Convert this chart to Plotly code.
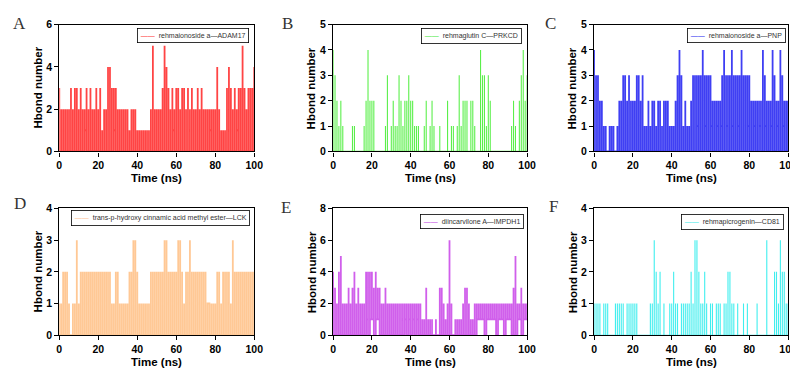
import plotly.graph_objects as go

# ---------------- data (1 ns bins, 0..100 ns) ----------------
time_ns = list(range(0, 101))

# per-bin highest and lowest H-bond count seen in each 1 ns column
hi_A = [int(c) for c in "3222223233" "2322323223" "2312244333" "2222221222" "1111111252"
        "2223543232" "3323323232" "2323222222" "2421113432" "32335323334"]
lo_A = [int(c) for c in "0000000000" "0001000000" "0000000010" "0000000000" "0000000000"
        "0000000010" "0000000000" "0000000100" "0000000000" "01000000000"]

hi_B = [int(c) for c in "4321210000" "1100001242" "2200000130" "1211321223" "2211100120"
        "1210010002" "0110131222" "0221004331" "3200000000" "00121023423"]
lo_B = [0] * 101

hi_C = [int(c) for c in "4332211011" "1012233232" "2233231121" "2212212221" "1123431211"
        "2333334333" "3222223433" "3433334333" "3222222432" "22432243222"]
lo_C = [int(c) for c in "0000000000" "0000000000" "0000000000" "0000000000" "0000000000"
        "0001000100" "1001010010" "0100100001" "0010010010" "01001001001"]

hi_D = [int(c) for c in "1122210113" "1222222222" "2222222112" "2111112233" "2111111222"
        "2222332222" "2332122322" "2222221111" "1221222213" "22222222222"]
lo_D = [int(c) for c in "0000000000" "0000000000" "0000000000" "0000000000" "0000000000"
        "0000000000" "0000000000" "0000001000" "0000000000" "00000000000"]

hi_E = [int(c) for c in "4324522232" "3423222444" "4343322322" "2222222222" "2222221131"
        "1101033212" "6201111233" "2112222222" "2222222222" "22235223222"]
lo_E = [int(c) for c in "0000000000" "0000000101" "1011000000" "0000000101" "0101000000"
        "0000000000" "0000000000" "0000111101" "1111011101" "11000110111"]

hi_F = [int(c) for c in "1111011100" "0111110111" "1110000001" "1321201001" "1211011111"
        "2133211210" "1101110112" "2110100101" "0000100003" "00022132211"]
lo_F = [0] * 101

names = ["rehmaionoside a—ADAM17", "rehmaglutin C—PRKCD", "rehmaionoside a—PNP",
         "trans-p-hydroxy cinnamic acid methyl ester—LCK", "diincarvilone A—IMPDH1",
         "rehmapicrogenin—CD81"]
letters = ["A", "B", "C", "D", "E", "F"]
y_max = [6, 5, 5, 4, 8, 4]
y_step = [2, 1, 1, 1, 2, 1]
x_ticks = [0, 20, 40, 60, 80, 100]

# ---------------- styling ----------------
W, H = 798, 369
colors = ["rgba(255,15,15,0.78)", "rgba(50,235,30,0.8)", "rgba(15,15,240,0.8)",
          "rgba(255,190,130,0.85)", "rgba(195,50,230,0.78)", "rgba(30,235,235,0.85)"]
legend_colors = ["#ff2a2a", "#40e830", "#1a1af0", "#ffc090", "#c040e0", "#30e8e8"]
widths = [1.8, 1.1, 1.8, 1.8, 1.8, 1.1]
# plot area boxes in pixels (x0, x1, y0, y1)
boxes = [(49, 247, 11, 142), (327, 524, 11, 142), (592, 789, 11, 142),
         (49, 247, 201, 332), (327, 524, 201, 332), (592, 789, 201, 332)]
letter_pos = [(9, 10), (281, 10), (548, 10), (9, 196), (279, 200), (551, 199)]
legend_box = [(133, 243, 14, 28), (424, 520, 14, 28), (692, 788, 14, 28),
              (68, 244, 203, 217), (425, 522, 207, 221), (689, 786, 207, 221)]

all_hi = [hi_A, hi_B, hi_C, hi_D, hi_E, hi_F]
all_lo = [lo_A, lo_B, lo_C, lo_D, lo_E, lo_F]

fig = go.Figure()
layout = dict(width=W, height=H, margin=dict(l=0, r=0, t=0, b=0),
              paper_bgcolor="white", plot_bgcolor="white", showlegend=False)
annotations = []
tick_font = dict(family="Liberation Sans, Arial", size=10.5, color="black", weight="bold")

for i in range(6):
    xs, ys = [], []
    for t, l, h in zip(time_ns, all_lo[i], all_hi[i]):
        # vertical stroke for this bin, then a step to the next bin at the same level
        xs += [t, t, t, t + 1]
        ys += [l, h, l, l]
    sfx = "" if i == 0 else str(i + 1)
    fig.add_trace(go.Scatter(x=xs, y=ys, mode="lines", xaxis="x" + sfx, yaxis="y" + sfx,
                             line=dict(color=colors[i], width=widths[i]), hoverinfo="skip"))
    x0, x1, y0, y1 = boxes[i]
    common = dict(ticks="outside", ticklen=4, tickwidth=1.3, tickcolor="black",
                  showline=True, linecolor="black", linewidth=1.3, mirror=True,
                  showgrid=False, zeroline=False, tickfont=tick_font)
    layout["xaxis" + sfx] = dict(domain=[x0 / W, x1 / W], range=[0, 100], tickvals=x_ticks,
                                 anchor="y" + sfx, **common)
    layout["yaxis" + sfx] = dict(domain=[1 - y1 / H, 1 - y0 / H], range=[0, y_max[i]],
                                 tickvals=list(range(0, y_max[i] + 1, y_step[i])),
                                 anchor="x" + sfx, **common)
    # panel letter
    lx, ly = letter_pos[i]
    annotations.append(dict(text=letters[i], x=lx / W, y=1 - ly / H, xref="paper", yref="paper",
                            xanchor="center", yanchor="middle", showarrow=False,
                            font=dict(family="Liberation Serif", size=17, color="#333")))
    # axis titles
    annotations.append(dict(text="Hbond number", x=(x0 - 22) / W, y=1 - (y0 + y1) / 2 / H,
                            xref="paper", yref="paper", textangle=-90, showarrow=False,
                            xanchor="center", yanchor="middle",
                            font=dict(family="Liberation Sans, Arial", size=11.5,
                                      color="black", weight="bold")))
    annotations.append(dict(text="Time (ns)", x=(x0 + x1) / 2 / W, y=1 - (y1 + 28) / H,
                            xref="paper", yref="paper", showarrow=False,
                            xanchor="center", yanchor="middle",
                            font=dict(family="Liberation Sans, Arial", size=11.5,
                                      color="black", weight="bold")))
    # legend box
    bx0, bx1, by0, by1 = legend_box[i]
    annotations.append(dict(
        text='<span style="color:%s">——</span>  %s' % (legend_colors[i], names[i]),
        x=(bx1 - 1) / W, y=1 - by0 / H, xref="paper", yref="paper", xanchor="right",
        yanchor="top", showarrow=False, align="left",
        bordercolor="black", borderwidth=0.8, borderpad=3, bgcolor="white",
        font=dict(family="Liberation Sans, Arial", size=7, color="#333")))

layout["annotations"] = annotations
fig.update_layout(**layout)
fig.write_html("out.html")
